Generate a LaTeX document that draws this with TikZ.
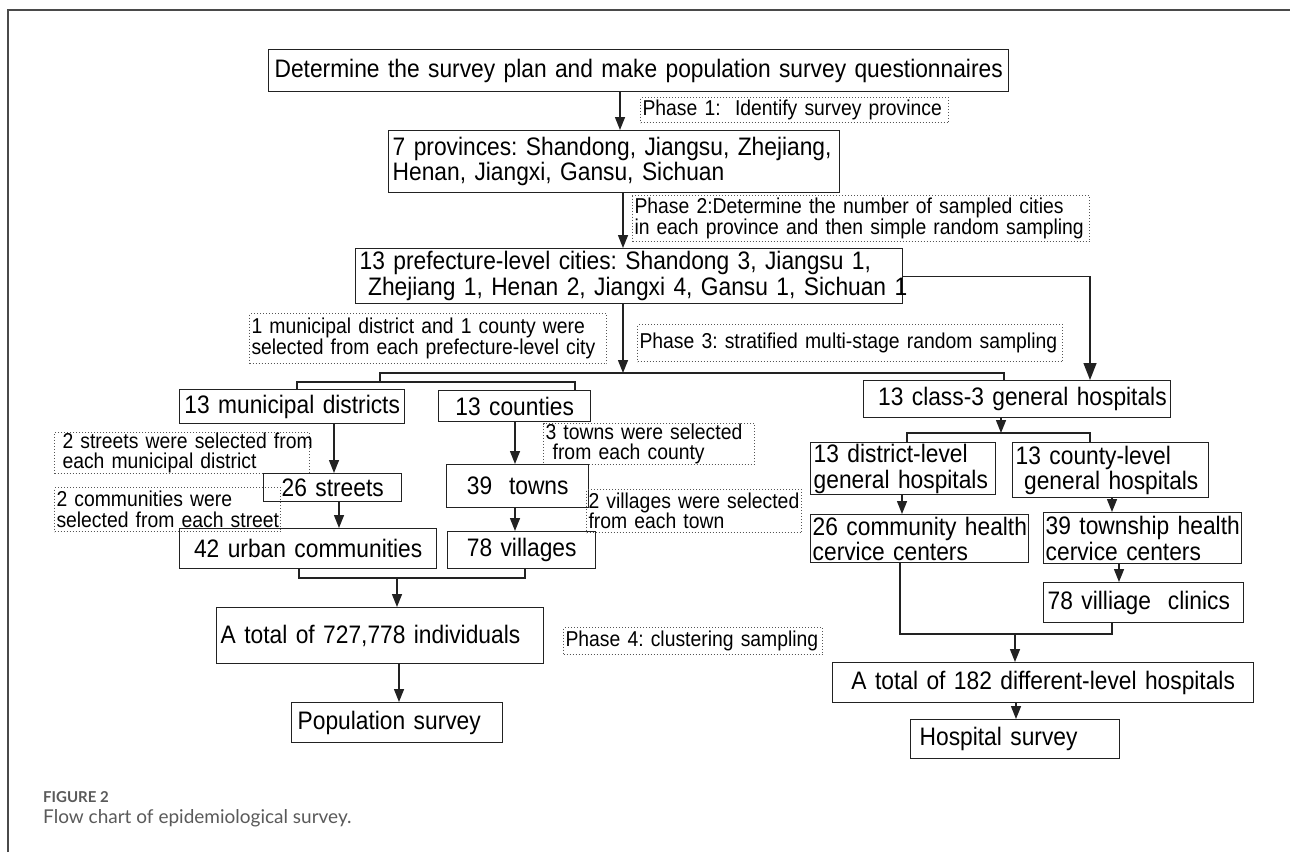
\documentclass[tikz,border=0pt]{standalone}
\usepackage{fontspec}
\setmainfont{Liberation Sans}
\newfontfamily\condf{Liberation Sans}[FakeStretch=0.9]
\newfontfamily\capfont{Lato}
\usetikzlibrary{arrows.meta}
\definecolor{boxc}{HTML}{222222}
\definecolor{notec}{HTML}{555555}
\definecolor{framec}{HTML}{4A4A4A}
\definecolor{capc}{HTML}{5A5A5A}
\newcommand\bigf{\condf\fontsize{25.3}{25.5}\selectfont}
\newcommand\smf{\condf\fontsize{21.5}{20.5}\selectfont}
\frenchspacing
\begin{document}
\begin{tikzpicture}[x=1pt,y=-1pt,
  box/.style={draw=boxc, line width=1.4pt, anchor=north west, inner xsep=4pt, inner ysep=0pt, font=\bigf, align=left},
  note/.style={draw=notec, line width=1pt, dash pattern=on 1pt off 2pt, anchor=north west, inner xsep=2pt, inner ysep=0pt, font=\smf, align=left},
  con/.style={draw=boxc, line width=1.4pt},
  arr/.style={con, -{Triangle[length=13pt,width=10pt]}},
  bigarr/.style={con, -{Triangle[length=17pt,width=13pt]}}]
\useasboundingbox (0,0) rectangle (1290,852);
\fill[white] (0,0) rectangle (1290,852);
\draw[framec, line width=2pt] (8,852) -- (8,10) -- (1290,10);

% top chain
\node[box, text width=732pt, minimum height=42pt, align=center] (plan) at (268,49) {\mbox{Determine the survey plan and make population survey questionnaires}};
\node[note, text width=304pt, minimum height=25pt] (p1) at (640,97) {\mbox{Phase 1:\ \ Identify survey province}};
\node[box, text width=443pt, minimum height=62pt] (prov) at (388,130) {\mbox{7 provinces: Shandong, Jiangsu, Zhejiang,}\\\mbox{Henan, Jiangxi, Gansu, Sichuan}};
\node[note, text width=453pt, minimum height=46pt] (p2) at (632,195) {\mbox{Phase 2:Determine the number of sampled cities}\\\mbox{in each province and then simple random sampling}};
\node[box, text width=539pt, minimum height=55pt] (city) at (355,248) {\mbox{13 prefecture-level cities: Shandong 3, Jiangsu 1,}\\\mbox{\ Zhejiang 1, Henan 2, Jiangxi 4, Gansu 1, Sichuan 1}};
\node[note, text width=353pt, minimum height=50pt] (n1) at (249,313) {\mbox{1 municipal district and 1 county were}\\\mbox{selected from each prefecture-level city}};
\node[note, text width=421pt, minimum height=37pt] (p3) at (637,324) {\mbox{Phase 3: stratified multi-stage random sampling}};

% population branch
\node[box, text width=217pt, minimum height=34pt, align=center] (mun) at (179,389) {\mbox{13 municipal districts}};
\node[box, text width=144pt, minimum height=31pt, align=center] (cty) at (438,390) {\mbox{13 counties}};
\node[note, text width=251pt, minimum height=40pt] (n2) at (54,432) {\mbox{\hspace*{6pt}2 streets were selected from}\\\mbox{\hspace*{6pt}each municipal district}};
\node[box, text width=130pt, minimum height=28pt, align=center] (st) at (263,473) {\mbox{26 streets}};
\node[note, text width=222pt, minimum height=44pt] (n3) at (54,487) {\mbox{2 communities were}\\\mbox{selected from each street}};
\node[box, text width=249pt, minimum height=40pt, align=center] (urb) at (179,528) {\mbox{42 urban communities}};
\node[note, text width=207pt, minimum height=40pt] (n4) at (543,423) {\mbox{3 towns were selected}\\\mbox{\ from each county}};
\node[box, text width=134pt, minimum height=43pt, align=center] (twn) at (446,464) {\mbox{39\ \ towns}};
\node[note, text width=211pt, minimum height=43pt] (n5) at (586,489) {\mbox{2 villages were selected}\\\mbox{from each town}};
\node[box, text width=140pt, minimum height=37pt, align=center] (vil) at (447,531) {\mbox{78 villages}};
\node[box, text width=319pt, minimum height=56pt] (tot) at (216,607) {\mbox{A total of 727,778 individuals}};
\node[box, text width=203pt, minimum height=40pt] (pop) at (291,702) {\mbox{\hspace*{2pt}Population survey}};
\node[note, text width=255pt, minimum height=27pt] (p4) at (563,627) {\mbox{Phase 4: clustering sampling}};

% hospital branch
\node[box, text width=299pt, minimum height=37pt, align=right] (c3) at (863,380) {\mbox{13 class-3 general hospitals}};
\node[box, inner xsep=3pt, text width=179pt, minimum height=52pt] (dl) at (810,442) {\mbox{13 district-level}\\\mbox{general hospitals}};
\node[box, inner xsep=3pt, text width=190pt, minimum height=55pt] (cl) at (1012,442) {\mbox{13 county-level}\\\mbox{\ general hospitals}};
\node[box, inner xsep=2pt, text width=214pt, minimum height=48pt] (chs) at (810,514) {\mbox{26 community health}\\\mbox{cervice centers}};
\node[box, inner xsep=2pt, text width=194pt, minimum height=51pt] (ths) at (1043,512) {\mbox{39 township health}\\\mbox{cervice centers}};
\node[box, text width=192pt, minimum height=40pt] (vc) at (1043,582) {\mbox{78 villiage\ \ clinics}};
\node[box, text width=413pt, minimum height=40pt, align=center] (th) at (832,662) {\mbox{A total of 182 different-level hospitals}};
\node[box, text width=201pt, minimum height=39pt] (hs) at (910,719) {\mbox{\hspace*{5pt}Hospital survey}};

% connectors: top
\draw[arr] (plan.south -| 620,0) -- (prov.north -| 620,0);
\draw[arr] (prov.south -| 623,0) -- (city.north -| 623,0);
\coordinate (j1) at (623,373);
\coordinate (j2) at (380,373);
\coordinate (j3) at (380,382);
\draw[arr] (city.south -| j1) -- (j1);
\draw[con] (j3) -- (j2) -| (c3.north -| 1004,0);
\draw[con] (mun.north -| 297,0) |- (j3) -| (cty.north -| 575,0);
\draw[bigarr] (city.east) -| (c3.north -| 1090,0);

% population branch connectors
\draw[arr] (mun.south -| 334,0) -- (st.north -| 334,0);
\draw[arr] (st.south -| 339,0) -- (urb.north -| 339,0);
\draw[arr] (cty.south -| 515,0) -- (twn.north -| 515,0);
\draw[arr] (twn.south -| 515,0) -- (vil.north -| 515,0);
\coordinate (j6) at (397,578);
\draw[con] (urb.south -| 299,0) |- (j6) -| (vil.south -| 525,0);
\draw[arr] (j6) -- (tot.north -| j6);
\draw[arr] (tot.south -| 399,0) -- (pop.north -| 399,0);

% hospital branch connectors
\coordinate (j4) at (1001,433);
\draw[arr] (c3.south -| j4) -- (j4);
\draw[con] (dl.north -| 907,0) |- (j4) -| (cl.north -| 1090,0);
\draw[arr] (dl.south -| 902,0) -- (chs.north -| 902,0);
\draw[arr] (cl.south -| 1112,0) -- (ths.north -| 1112,0);
\draw[arr] (ths.south -| 1119,0) -- (vc.north -| 1119,0);
\coordinate (j5) at (1015,634);
\draw[con] (chs.south -| 900,0) |- (j5) -| (vc.south -| 1112,0);
\draw[arr] (j5) -- (th.north -| j5);
\draw[arr] (th.south -| 1016,0) -- (hs.north -| 1016,0);

% caption
\node[anchor=base west, inner sep=0pt, text=capc, font=\capfont\bfseries\fontsize{15}{15}\selectfont] (figlab) at (43,802) {FIGURE 2};
\node[anchor=base west, inner sep=0pt, text=capc, font=\capfont\fontsize{19}{19}\selectfont] (figcap) at (43,823) {Flow chart of epidemiological survey.};
\end{tikzpicture}
\end{document}
